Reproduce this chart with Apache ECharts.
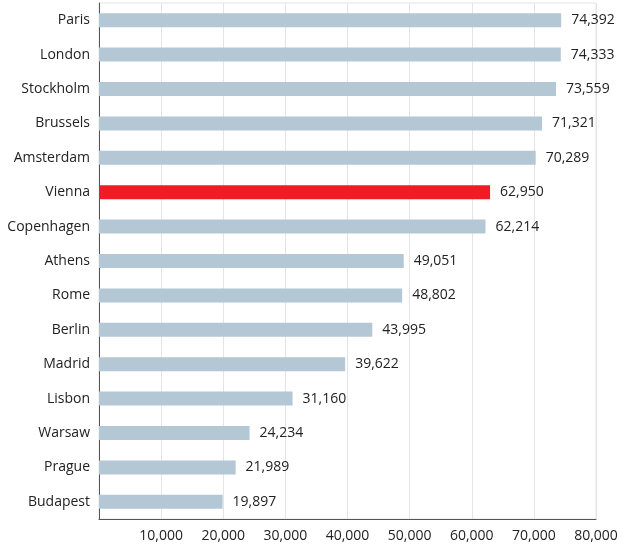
<!DOCTYPE html>
<html><head><meta charset="utf-8">
<script src="https://cdn.jsdelivr.net/npm/echarts@6/dist/echarts.min.js"></script>
<style>html,body{margin:0;padding:0;background:#fff}#c{width:625px;height:546px}</style>
</head><body><div id="c"></div>
<script>
const categories = ["Paris","London","Stockholm","Brussels","Amsterdam","Vienna","Copenhagen","Athens","Rome","Berlin","Madrid","Lisbon","Warsaw","Prague","Budapest"];
const values = [74392,74333,73559,71321,70289,62950,62214,49051,48802,43995,39622,31160,24234,21989,19897];
const highlight = "Vienna";
const xTicks = [0,10000,20000,30000,40000,50000,60000,70000,80000];

const fmt = v => v.toLocaleString('en-US');
const chart = echarts.init(document.getElementById('c'));
chart.setOption({
  animation: false,
  grid: {left: 99, right: 29, top: 3, bottom: 27, show: true, borderColor: '#e4e4e4', borderWidth: 1},
  xAxis: {
    type: 'value', min: xTicks[0], max: xTicks[xTicks.length-1], interval: 10000,
    axisLine: {show: true, lineStyle: {color: '#555', width: 1}},
    axisTick: {show: false},
    splitLine: {lineStyle: {color: '#e4e4e4'}},
    axisLabel: {showMinLabel: false, formatter: v => v === 0 ? '' : fmt(v), color: '#222', fontSize: 14, fontFamily: 'Open Sans', margin: 10}
  },
  yAxis: {
    type: 'category', data: categories, inverse: true,
    axisLine: {show: true, lineStyle: {color: '#555', width: 1}},
    axisTick: {show: false},
    axisLabel: {color: '#222', fontSize: 14, fontFamily: 'Open Sans', margin: 9}
  },
  series: [{
    type: 'bar', barWidth: 14,
    data: values.map((v, i) => ({value: v, itemStyle: {color: categories[i] === highlight ? '#ee1c25' : '#b3c7d5'}})),
    label: {show: true, position: 'right', distance: 10, formatter: p => fmt(p.value), color: '#222', fontSize: 14, fontFamily: 'Open Sans'}
  }]
});
</script></body></html>
